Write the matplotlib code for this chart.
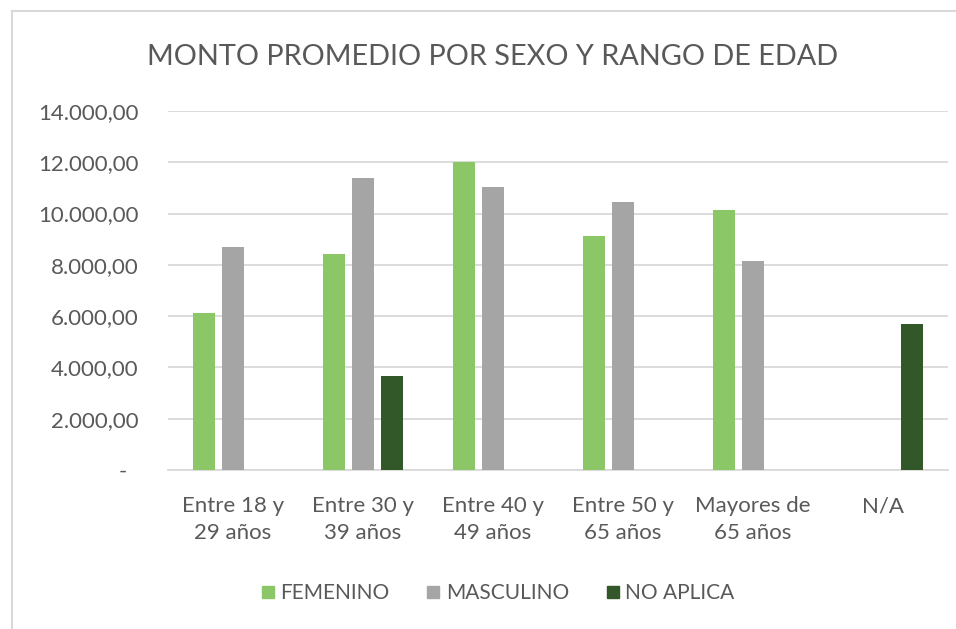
import numpy as np
import matplotlib
matplotlib.use('Agg')
import matplotlib.pyplot as plt
from matplotlib.lines import Line2D

# data
categories = ['Entre 18 y\n29 años', 'Entre 30 y\n39 años', 'Entre 40 y\n49 años',
              'Entre 50 y\n65 años', 'Mayores de\n65 años', 'N/A']
series_names = ['FEMENINO', 'MASCULINO', 'NO APLICA']
femenino = [6130, 8420, 12010, 9110, 10130, 0]
masculino = [8690, 11400, 11050, 10460, 8160, 0]
no_aplica = [0, 3680, 0, 0, 0, 5710]
yticks = [0, 2000, 4000, 6000, 8000, 10000, 12000, 14000]

colors = ['#8BC766', '#A5A5A5', '#325728']
text_color = '#595959'

plt.rcParams['font.family'] = ['Lato', 'DejaVu Sans']


def fmt_money(v):
    # accounting style: 12.000,00 and a dash for zero
    if v == 0:
        return '-  '
    s = '{:,.2f}'.format(v)
    return s.replace(',', 'X').replace('.', ',').replace('X', '.')


fig = plt.figure(figsize=(9.56, 6.29), dpi=100)
ax = fig.add_axes([168 / 956, 1 - 470 / 629, 780 / 956, 359 / 629])

x = np.arange(len(categories))
width = 0.17
step = 0.223
for i, (name, vals) in enumerate(zip(series_names, [femenino, masculino, no_aplica])):
    ax.bar(x + (i - 1) * step, vals, width, color=colors[i], label=name, zorder=3)

ax.set_xlim(-0.5, len(categories) - 0.5)
ax.set_ylim(0, 14000)
ax.set_yticks(yticks)
ax.set_yticklabels([fmt_money(v) for v in yticks])
ax.set_xticks(x)
ax.set_xticklabels(categories, linespacing=1.4)
ax.tick_params(axis='both', length=0, labelsize=16, colors=text_color)
ax.tick_params(axis='x', pad=19)
ax.tick_params(axis='y', pad=21)

ax.yaxis.grid(True, color='#D9D9D9', linewidth=1.3, zorder=0)
for side in ['top', 'right', 'left']:
    ax.spines[side].set_visible(False)
ax.spines['bottom'].set_color('#D9D9D9')
ax.spines['bottom'].set_linewidth(1.3)

fig.text(493 / 956, 1 - 57 / 629, 'MONTO PROMEDIO POR SEXO Y RANGO DE EDAD',
         ha='center', va='center', fontsize=20.8, color=text_color)

handles = [Line2D([], [], marker='s', linestyle='', markersize=9, color=c) for c in colors]
fig.legend(handles, series_names, loc='center', bbox_to_anchor=(496 / 956, 1 - 593 / 629),
           ncol=3, frameon=False, fontsize=15, labelcolor=text_color,
           handletextpad=0.1, columnspacing=1.6, handlelength=1.0)

# chart area border (only top and left visible in the crop)
fig.add_artist(Line2D([12 / 956, 12 / 956], [0, 1 - 11 / 629], transform=fig.transFigure,
                      color='#D9D9D9', linewidth=1.5))
fig.add_artist(Line2D([12 / 956, 1], [1 - 11 / 629, 1 - 11 / 629], transform=fig.transFigure,
                      color='#D9D9D9', linewidth=1.5))

fig.savefig('out.png', dpi=100)
